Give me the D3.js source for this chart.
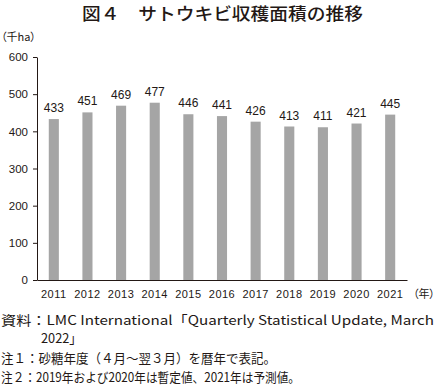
<!DOCTYPE html>
<html>
<head>
<meta charset="utf-8">
<script src="https://cdn.jsdelivr.net/npm/d3@7"></script>
<style>
body { margin: 0; background: #fff; }
text { font-family: "Noto Sans CJK JP", "Noto Sans", sans-serif; fill: #231815; }
</style>
</head>
<body>
<div id="chart"></div>
<script>
var years = ["2011", "2012", "2013", "2014", "2015", "2016", "2017", "2018", "2019", "2020", "2021"];
var area = [433, 451, 469, 477, 446, 441, 426, 413, 411, 421, 445];
var yTicks = [0, 100, 200, 300, 400, 500, 600];
var notes = [
  "資料：LMC International「Quarterly Statistical Update, March",
  "2022」",
  "注１：砂糖年度（４月～翌３月）を暦年で表記。",
  "注２：2019年および2020年は暫定値、2021年は予測値。"
];

var width = 438, height = 388;

// note layout: x, baseline y, width of each line
var noteX = [1, 41, 1, 1];
var noteY = [325, 343, 363, 382];
var noteW = [433, 41, 275, 299];

var svg = d3.select("#chart").append("svg")
  .attr("width", width)
  .attr("height", height);

var x = d3.scaleBand()
  .domain(years)
  .range([37, 407])
  .paddingInner(0.7)
  .paddingOuter(0.35);

var y = d3.scaleLinear()
  .domain([0, 600])
  .range([280, 57]);

// title
svg.append("text")
  .attr("x", 82)
  .attr("y", 20)
  .attr("textLength", 281)
  .attr("lengthAdjust", "spacingAndGlyphs")
  .style("font-size", "17px")
  .style("font-weight", "500")
  .text("図４　サトウキビ収穫面積の推移");

svg.append("text")
  .attr("x", 1)
  .attr("y", 41)
  .style("font-size", "11px")
  .style("font-feature-settings", "'palt'")
  .text("（千ha）");

// y axis
var yAxis = svg.append("g")
  .attr("transform", "translate(37,0)")
  .call(d3.axisLeft(y).tickValues(yTicks).tickSize(4).tickSizeOuter(0).tickPadding(5));
yAxis.select(".domain").attr("stroke", "#231815");
yAxis.selectAll(".tick line").attr("stroke", "#231815");
yAxis.selectAll(".tick text")
  .style("font-size", "11.5px")
  .attr("fill", "#231815")
  .style("font-family", "'Liberation Sans', Arial, sans-serif");

// x axis
var xAxis = svg.append("g")
  .attr("transform", "translate(0,280)")
  .call(d3.axisBottom(x).tickSize(0).tickSizeOuter(0).tickPadding(10));
xAxis.select(".domain").attr("stroke", "#231815");
xAxis.selectAll(".tick text")
  .style("font-size", "11px")
  .style("letter-spacing", "0.5px")
  .attr("fill", "#231815")
  .style("font-family", "'Liberation Sans', Arial, sans-serif");

svg.append("text")
  .attr("x", 413)
  .attr("y", 298)
  .style("font-size", "11px")
  .style("font-feature-settings", "'palt'")
  .text("（年）");

// bars
svg.selectAll("rect.bar")
  .data(area)
  .enter()
  .append("rect")
  .attr("class", "bar")
  .attr("x", (d, i) => x(years[i]))
  .attr("y", d => y(d))
  .attr("width", x.bandwidth())
  .attr("height", d => y(0) - y(d))
  .attr("fill", "#a5a5a5");

svg.selectAll("text.val")
  .data(area)
  .enter()
  .append("text")
  .attr("class", "val")
  .attr("x", (d, i) => x(years[i]) + x.bandwidth() / 2)
  .attr("y", d => y(d) - 7)
  .attr("text-anchor", "middle")
  .style("font-size", "12px")
  .style("font-family", "'Liberation Sans', Arial, sans-serif")
  .text(d => d);

// notes
svg.selectAll("text.note")
  .data(notes)
  .enter()
  .append("text")
  .attr("class", "note")
  .attr("x", (d, i) => noteX[i])
  .attr("y", (d, i) => noteY[i])
  .attr("textLength", (d, i) => noteW[i])
  .attr("lengthAdjust", "spacingAndGlyphs")
  .style("font-size", "13px")
  .text(d => d);
</script>
</body>
</html>
